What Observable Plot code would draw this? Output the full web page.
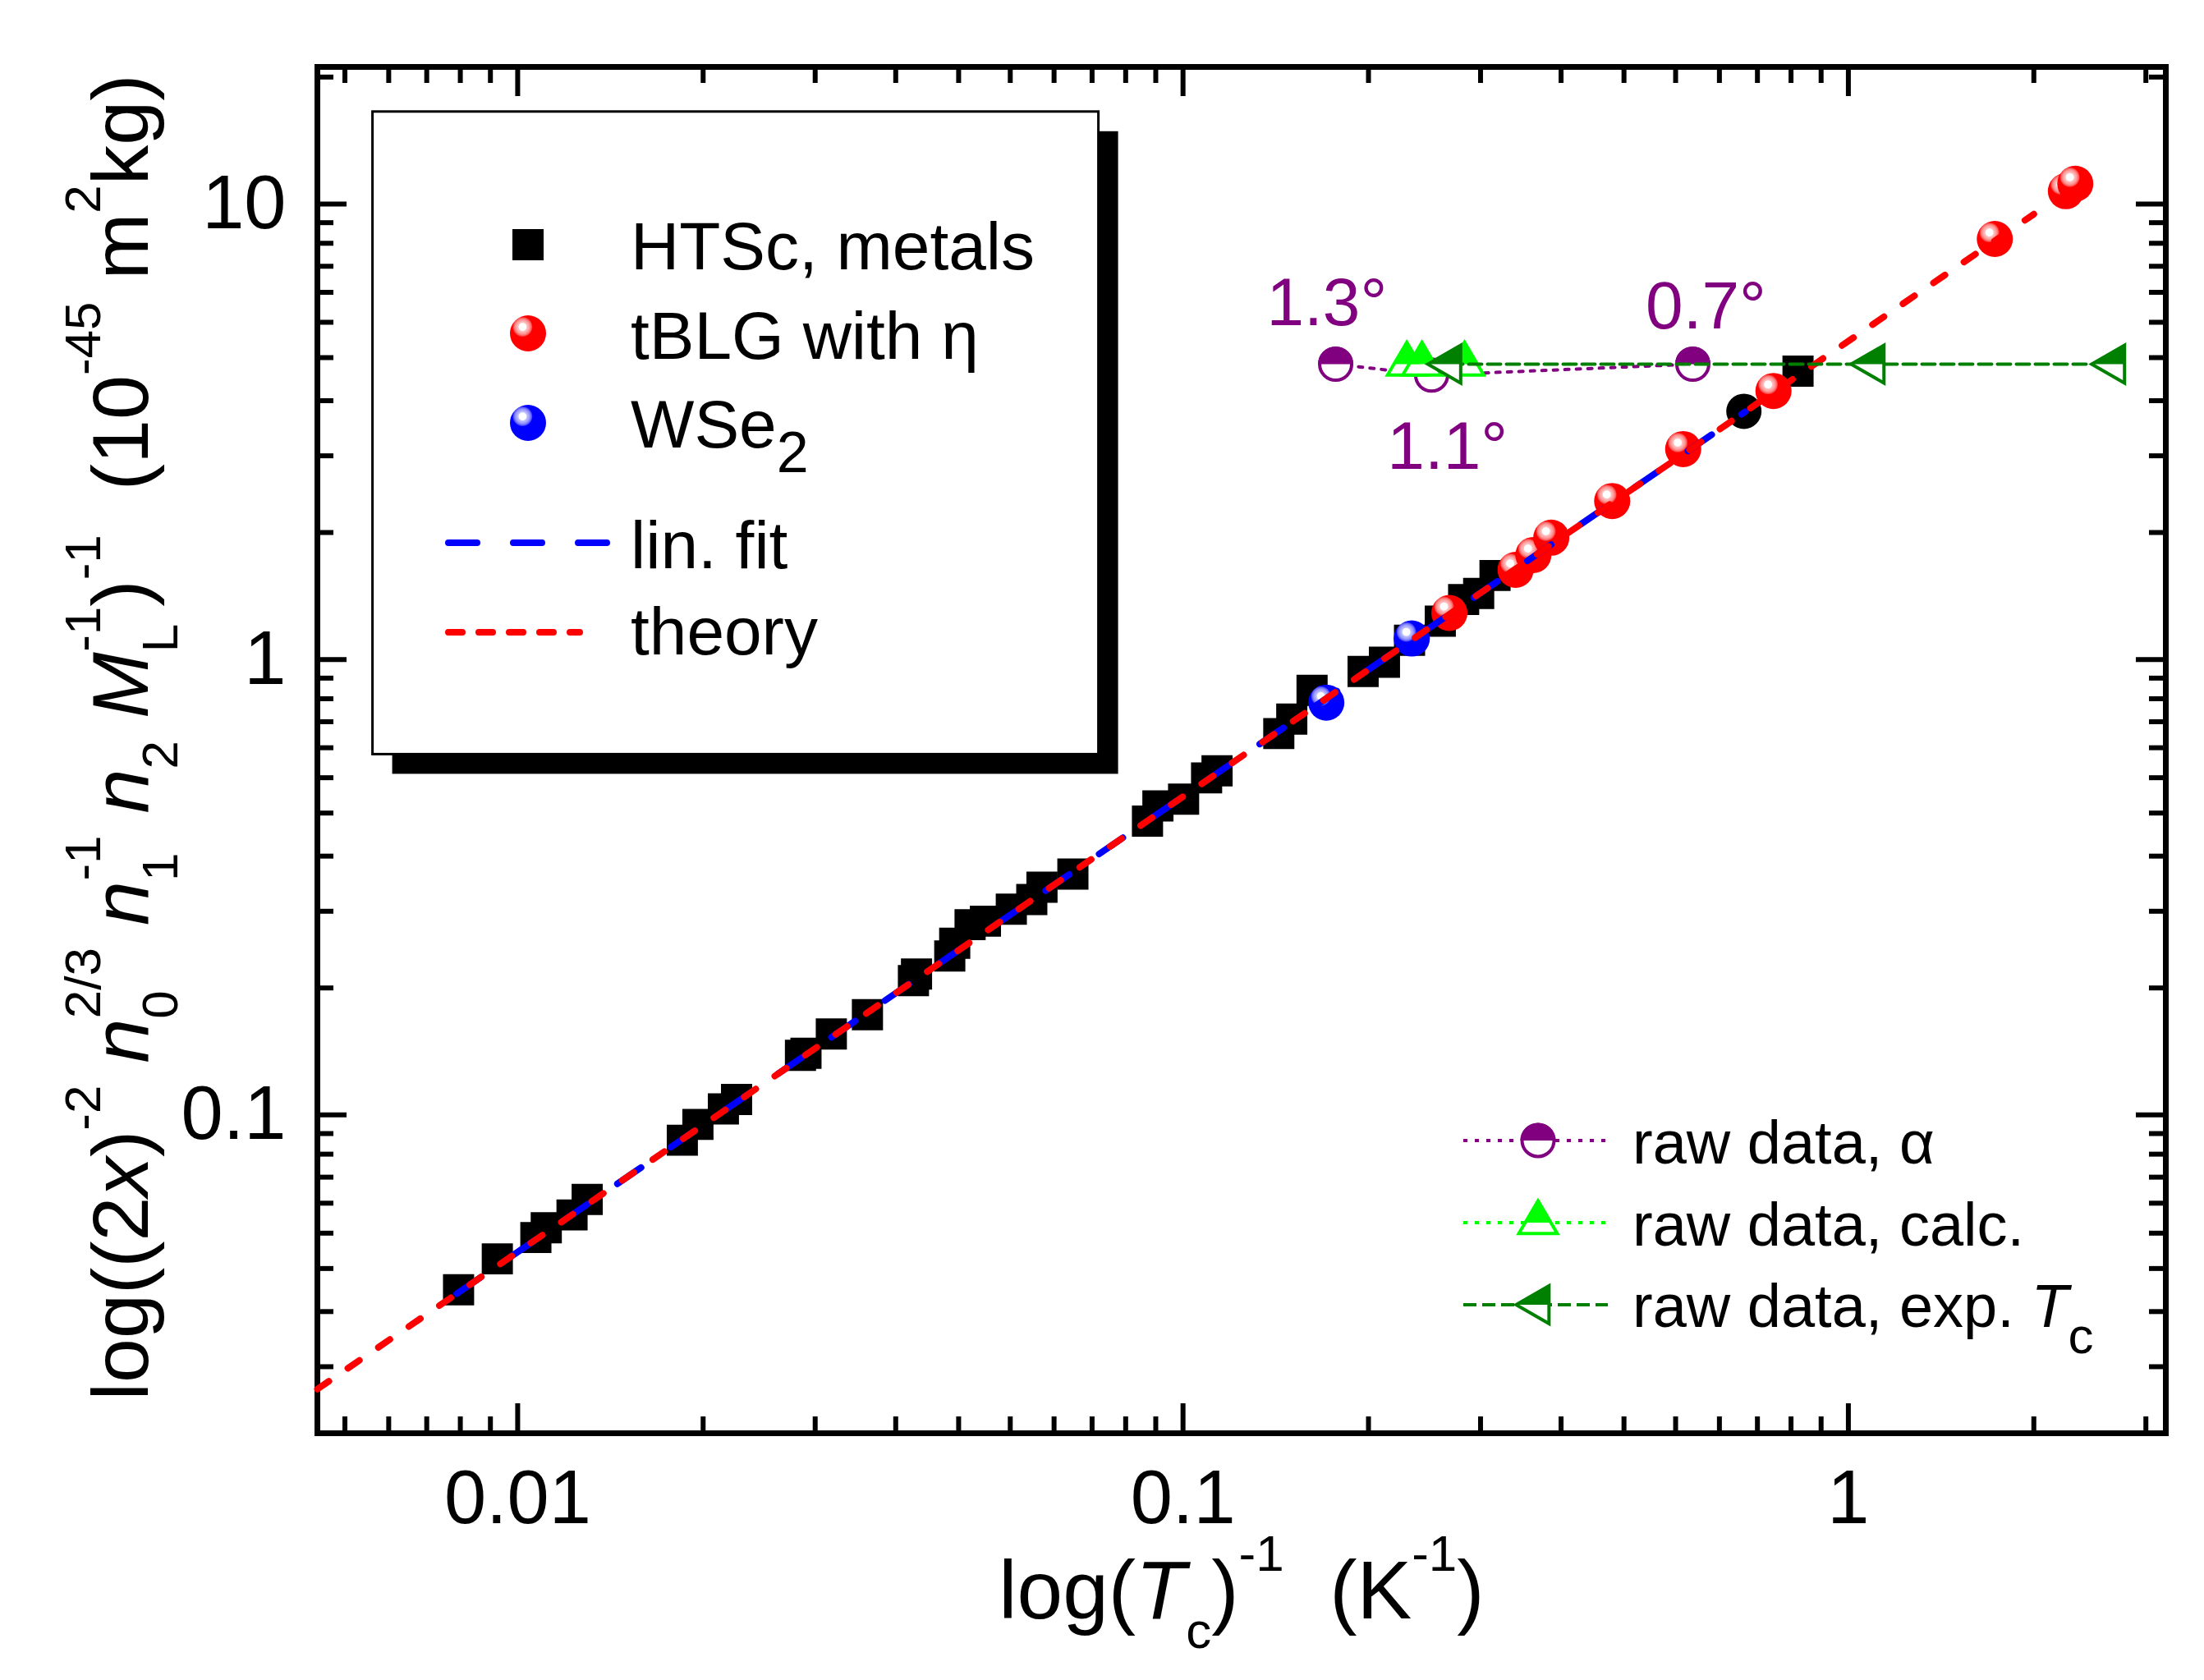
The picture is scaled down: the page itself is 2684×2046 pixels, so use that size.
<!DOCTYPE html>
<html>
<head>
<meta charset="utf-8">
<script src="https://cdn.jsdelivr.net/npm/d3@7"></script>
<script src="https://cdn.jsdelivr.net/npm/@observablehq/plot@0.6"></script>
<style>
  body { margin: 0; background: #fff; }
  svg { display: block; }
</style>
</head>
<body>
<svg width="0" height="0" style="position:absolute">
  <defs>
    <radialGradient id="ballRed" cx="0.35" cy="0.32" r="0.5" fx="0.35" fy="0.32">
      <stop offset="0" stop-color="#ffffff"/>
      <stop offset="0.2" stop-color="#ffffff"/>
      <stop offset="0.24" stop-color="#ffc4c4"/>
      <stop offset="0.4" stop-color="#ff9494"/>
      <stop offset="0.5" stop-color="#ff5656"/>
      <stop offset="0.56" stop-color="#ff0000"/>
      <stop offset="1" stop-color="#ff0000"/>
    </radialGradient>
    <radialGradient id="ballBlue" cx="0.35" cy="0.32" r="0.5" fx="0.35" fy="0.32">
      <stop offset="0" stop-color="#ffffff"/>
      <stop offset="0.2" stop-color="#ffffff"/>
      <stop offset="0.24" stop-color="#c4c4ff"/>
      <stop offset="0.4" stop-color="#9494ff"/>
      <stop offset="0.5" stop-color="#5656ff"/>
      <stop offset="0.56" stop-color="#0000ff"/>
      <stop offset="1" stop-color="#0000ff"/>
    </radialGradient>
  </defs>
</svg>
<script>
// ---------- data ----------
const htscX = [0.00815, 0.00932, 0.01065, 0.01104, 0.01207, 0.01272, 0.01768, 0.01866, 0.02038, 0.02133,
  0.02661, 0.02712, 0.02961, 0.03355, 0.03934, 0.03976, 0.04461, 0.04538, 0.04786, 0.05047,
  0.05520, 0.05925, 0.06138, 0.06831, 0.08843, 0.09168, 0.1002, 0.1085, 0.1125, 0.1393,
  0.1457, 0.1563, 0.1865, 0.2008, 0.2190, 0.2436, 0.2641, 0.2782, 0.2944, 0.8401];
const htscY = [0.0413, 0.0483, 0.0538, 0.0565, 0.0603, 0.0652, 0.0880, 0.0953, 0.1031, 0.1081,
  0.1351, 0.1366, 0.1506, 0.1660, 0.1972, 0.2039, 0.2234, 0.2381, 0.2616, 0.2663,
  0.2829, 0.2971, 0.3161, 0.3378, 0.4417, 0.4768, 0.4934, 0.5495, 0.5697, 0.6876,
  0.7400, 0.8555, 0.9412, 0.9865, 1.102, 1.214, 1.354, 1.396, 1.529, 4.297];
const otherX = [0.6966];
const otherY = [3.507];
const tblgX = [0.2514, 0.3161, 0.3362, 0.3577, 0.4416, 0.5646, 0.7717, 1.66, 2.123, 2.193];
const tblgY = [1.265, 1.573, 1.696, 1.851, 2.228, 2.897, 3.886, 8.38, 10.67, 11.08];
const wse2X = [0.1642, 0.2207];
const wse2Y = [0.804, 1.112];
const linFitX = [0.0081, 0.70];
const linFitY = [0.0405, 3.50];
const theoryX = [0.005, 1.9];
const theoryY = [0.025, 9.5];
const alphaAngles = ["1.3°", "1.1°", "0.7°"];
const alphaX = [0.1696, 0.2364, 0.5837];
const alphaY = [4.45, 4.21, 4.45];
const calcX = [0.2169, 0.2286, 0.2649];
const calcY = [4.45, 4.45, 4.45];
const expX = [0.2517, 1.089, 2.504];
const expY = [4.45, 4.45, 4.45];
const annText = ["1.3°", "0.7°", "1.1°"];
const annX = [0.1645, 0.6108, 0.2497];
const annY = [5.42, 5.33, 2.623];

const xDomain = [0.005, 3];
const yDomain = [0.02, 20];
const xMajorTicks = [0.01, 0.1, 1];
const xMajorLabels = ["0.01", "0.1", "1"];
const xMinorTicks = [0.0055, 0.0064, 0.0073, 0.0082, 0.0091,
  0.019, 0.028, 0.037, 0.046, 0.055, 0.064, 0.073, 0.082, 0.091,
  0.19, 0.28, 0.37, 0.46, 0.55, 0.64, 0.73, 0.82, 0.91,
  1.9, 2.8];
const yMajorTicks = [0.1, 1, 10];
const yMajorLabels = ["0.1", "1", "10"];
const yMinorTicks = [0.028, 0.037, 0.046, 0.055, 0.064, 0.073, 0.082, 0.091,
  0.19, 0.28, 0.37, 0.46, 0.55, 0.64, 0.73, 0.82, 0.91,
  1.9, 2.8, 3.7, 4.6, 5.5, 6.4, 7.3, 8.2, 9.1,
  19];

// ---------- helpers ----------
const FONT = "'Liberation Sans', Arial, Helvetica, sans-serif";
const PURPLE = "#800080", GREEN = "#00ff00", DKGREEN = "#008000";
const pts = (xs, ys) => xs.map((x, i) => ({x, y: ys[i], i}));

const rad = (s) => Math.sqrt(s / Math.PI);
const upperHalf = {draw(c, s) { const r = rad(s); c.moveTo(-r, 0); c.arc(0, 0, r, Math.PI, 2 * Math.PI); c.closePath(); }};
const upTri = {draw(c, s) { const r = rad(s); c.moveTo(0, -1.333 * r); c.lineTo(1.17 * r, 0.667 * r); c.lineTo(-1.17 * r, 0.667 * r); c.closePath(); }};
const upTriTop = {draw(c, s) { const r = rad(s); c.moveTo(0, -1.333 * r); c.lineTo(0.78 * r, 0); c.lineTo(-0.78 * r, 0); c.closePath(); }};
const leftTri = {draw(c, s) { const r = rad(s); c.moveTo(-1.333 * r, 0); c.lineTo(0.667 * r, -1.15 * r); c.lineTo(0.667 * r, 1.15 * r); c.closePath(); }};
const leftTriTop = {draw(c, s) { const r = rad(s); c.moveTo(-1.333 * r, 0); c.lineTo(0.667 * r, -1.15 * r); c.lineTo(0.667 * r, 0); c.closePath(); }};

const ymin = () => yDomain[0], ymax = () => yDomain[1];
const xmin = () => xDomain[0], xmax = () => xDomain[1];
const TW = 6;

const alpha = pts(alphaX, alphaY).map((d, i) => ({...d, angle: alphaAngles[i]}));

const svg = Plot.plot({
  width: 2684, height: 2046,
  marginLeft: 386, marginRight: 47, marginTop: 81, marginBottom: 301,
  x: {type: "log", domain: xDomain, axis: null},
  y: {type: "log", domain: yDomain, axis: null},
  style: {fontFamily: FONT, background: "#fff", overflow: "visible", color: "#000"},
  marks: [
    // ticks (inward, all four sides)
    Plot.ruleX(xMajorTicks, {x: d => d, y1: ymin, y2: ymin, insetBottom: 36, stroke: "#000", strokeWidth: TW}),
    Plot.ruleX(xMinorTicks, {x: d => d, y1: ymin, y2: ymin, insetBottom: 20, stroke: "#000", strokeWidth: TW}),
    Plot.ruleX(xMajorTicks, {x: d => d, y1: ymax, y2: ymax, insetBottom: -36, stroke: "#000", strokeWidth: TW}),
    Plot.ruleX(xMinorTicks, {x: d => d, y1: ymax, y2: ymax, insetBottom: -20, stroke: "#000", strokeWidth: TW}),
    Plot.ruleY(yMajorTicks, {y: d => d, x1: xmin, x2: xmin, insetRight: -36, stroke: "#000", strokeWidth: TW}),
    Plot.ruleY(yMinorTicks, {y: d => d, x1: xmin, x2: xmin, insetRight: -20, stroke: "#000", strokeWidth: TW}),
    Plot.ruleY(yMajorTicks, {y: d => d, x1: xmax, x2: xmax, insetLeft: -36, stroke: "#000", strokeWidth: TW}),
    Plot.ruleY(yMinorTicks, {y: d => d, x1: xmax, x2: xmax, insetLeft: -20, stroke: "#000", strokeWidth: TW}),
    Plot.frame({stroke: "#000", strokeWidth: 7}),
    // tick labels
    Plot.text(xMajorTicks, {x: d => d, y: ymin, text: (d, i) => xMajorLabels[i], dy: 109, lineAnchor: "bottom", fontSize: 92, fill: "#000"}),
    Plot.text(yMajorTicks, {x: xmin, y: d => d, text: (d, i) => yMajorLabels[i], dx: -38, textAnchor: "end", lineAnchor: "middle", fontSize: 92, fill: "#000"}),
    // data
    Plot.dot(pts(htscX, htscY), {x: "x", y: "y", symbol: "square", r: 21.4, fill: "#000"}),
    Plot.dot(pts(otherX, otherY), {x: "x", y: "y", r: 21.5, fill: "#000"}),
    Plot.dot(pts(tblgX, tblgY), {x: "x", y: "y", r: 22, fill: "url(#ballRed)"}),
    Plot.dot(pts(wse2X, wse2Y), {x: "x", y: "y", r: 22, fill: "url(#ballBlue)"}),
    Plot.line(pts(linFitX, linFitY), {x: "x", y: "y", stroke: "#0000ff", strokeWidth: 8, strokeDasharray: "35,44", strokeLinecap: "round"}),
    Plot.line(pts(theoryX, theoryY), {x: "x", y: "y", stroke: "#ff0000", strokeWidth: 8, strokeDasharray: "17,28", strokeLinecap: "round"}),
    // raw data
    Plot.line(alpha, {x: "x", y: "y", stroke: PURPLE, strokeWidth: 4, strokeDasharray: "5,9"}),
    Plot.dot(alpha, {x: "x", y: "y", r: 19.5, fill: "#fff", stroke: PURPLE, strokeWidth: 4}),
    Plot.dot(alpha, {filter: d => d.angle !== "1.1°", x: "x", y: "y", symbol: upperHalf, r: 21.5, fill: PURPLE}),
    Plot.line(pts(calcX, calcY), {x: "x", y: "y", stroke: GREEN, strokeWidth: 4, strokeDasharray: "5,9"}),
    Plot.dot(pts(calcX, calcY), {x: "x", y: "y", symbol: upTri, r: 20, fill: "#fff", stroke: GREEN, strokeWidth: 4}),
    Plot.dot(pts(calcX, calcY), {x: "x", y: "y", symbol: upTriTop, r: 20, fill: GREEN}),
    Plot.line(pts(expX, expY), {x: "x", y: "y", stroke: DKGREEN, strokeWidth: 4, strokeDasharray: "16,7"}),
    Plot.dot(pts(expX, expY), {x: "x", y: "y", symbol: leftTri, r: 20, fill: "#fff", stroke: DKGREEN, strokeWidth: 4}),
    Plot.dot(pts(expX, expY), {x: "x", y: "y", symbol: leftTriTop, r: 20, fill: DKGREEN}),
    Plot.text(pts(annX, annY), {x: "x", y: "y", text: (d) => annText[d.i], lineAnchor: "bottom", fontSize: 82, fill: PURPLE})
  ]
});
document.body.appendChild(svg);

// ---------- rich text (sub/superscripts) ----------
const root = d3.select(svg);
function rich(parent, o) {
  const t = parent.append("text")
    .attr("font-size", o.size).attr("text-anchor", o.anchor || "start")
    .attr("fill", o.fill || "#000").attr("font-family", FONT);
  if (o.rotate) t.attr("transform", `translate(${o.x},${o.y}) rotate(${o.rotate})`);
  else t.attr("x", o.x).attr("y", o.y);
  let cur = 0;
  for (const [txt, k, it, dx] of o.parts) {
    const target = k === "d" ? o.subShift : k === "u" ? -o.supShift : 0;
    const ts = t.append("tspan").text(txt).attr("dy", target - cur);
    if (k !== "b") ts.attr("font-size", o.subSize);
    if (it) ts.attr("font-style", "italic");
    if (dx) ts.attr("dx", dx);
    cur = target;
  }
  return t;
}

// x axis title
rich(root, {x: 1512, y: 1971, anchor: "middle", size: 100, subSize: 62, subShift: 36, supShift: 58,
  parts: [["log(", "b"], ["T", "b", 1], ["c", "d"], [")", "b"], ["-1", "u"], ["\u00A0\u00A0(K", "b"], ["-1", "u"], [")", "b"]]});

// y axis title
rich(root, {x: 180, y: 898, rotate: -90, anchor: "middle", size: 97, subSize: 62, subShift: 36, supShift: 58,
  parts: [
    ["log((2", "b"], ["x", "b", 1], [")", "b"], ["-2", "u"], ["\u00A0", "b"],
    ["n", "b", 1], ["0", "d"], ["2/3", "u", 0, -34], ["\u00A0", "b"],
    ["n", "b", 1], ["1", "d"], ["-1", "u", 0, -34], ["\u00A0", "b"],
    ["n", "b", 1], ["2", "d"], ["\u00A0", "b"],
    ["M", "b", 1], ["L", "d"], ["-1", "u", 0, -34], [")", "b"], ["-1", "u"],
    ["\u00A0\u00A0(10", "b"], ["-45", "u"], ["\u00A0m", "b"], ["2", "u"], ["kg)", "b"]
  ]});

// ---------- main legend (box with shadow) ----------
const lg = root.append("g");
lg.append("rect").attr("x", 477.6).attr("y", 159.8).attr("width", 884).attr("height", 782.6).attr("fill", "#000");
lg.append("rect").attr("x", 453.6).attr("y", 135.8).attr("width", 884).attr("height", 782.6)
  .attr("fill", "#fff").attr("stroke", "#000").attr("stroke-width", 3);
const MX = 643, TX = 768;
lg.append("rect").attr("x", MX - 19).attr("y", 298 - 19).attr("width", 38).attr("height", 38).attr("fill", "#000");
lg.append("circle").attr("cx", MX).attr("cy", 406).attr("r", 22).attr("fill", "url(#ballRed)");
lg.append("circle").attr("cx", MX).attr("cy", 515).attr("r", 22).attr("fill", "url(#ballBlue)");
lg.append("line").attr("x1", 546).attr("x2", 741).attr("y1", 661).attr("y2", 661)
  .attr("stroke", "#0000ff").attr("stroke-width", 8).attr("stroke-dasharray", "35,44").attr("stroke-linecap", "round");
lg.append("line").attr("x1", 546).attr("x2", 706).attr("y1", 770).attr("y2", 770)
  .attr("stroke", "#ff0000").attr("stroke-width", 8).attr("stroke-dasharray", "17,20").attr("stroke-linecap", "round");
const legendMain = [["HTSc, metals", 328], ["tBLG with η", 437], ["lin. fit", 692], ["theory", 797]];
for (const [t, y] of legendMain) {
  rich(lg, {x: TX, y, size: 82, subSize: 68, subShift: 30, supShift: 30, parts: [[t, "b"]]});
}
rich(lg, {x: TX, y: 545, size: 82, subSize: 70, subShift: 30, supShift: 30, parts: [["WSe", "b"], ["2", "d"]]});

// ---------- raw data legend ----------
const rg = root.append("g");
const sym = (type, r) => d3.symbol().type(type).size(Math.PI * r * r)();
const RX = 1873;
// alpha
rg.append("line").attr("x1", 1782).attr("x2", 1958).attr("y1", 1389).attr("y2", 1389)
  .attr("stroke", PURPLE).attr("stroke-width", 4).attr("stroke-dasharray", "5,9");
rg.append("circle").attr("cx", RX).attr("cy", 1389).attr("r", 19.5).attr("fill", "#fff").attr("stroke", PURPLE).attr("stroke-width", 4);
rg.append("path").attr("d", sym(upperHalf, 21.5)).attr("transform", `translate(${RX},1389)`).attr("fill", PURPLE);
// calc
rg.append("line").attr("x1", 1782).attr("x2", 1958).attr("y1", 1489).attr("y2", 1489)
  .attr("stroke", GREEN).attr("stroke-width", 4).attr("stroke-dasharray", "5,9");
rg.append("path").attr("d", sym(upTri, 20)).attr("transform", `translate(${RX},1489)`).attr("fill", "#fff").attr("stroke", GREEN).attr("stroke-width", 4);
rg.append("path").attr("d", sym(upTriTop, 20)).attr("transform", `translate(${RX},1489)`).attr("fill", GREEN);
// exp Tc
rg.append("line").attr("x1", 1782).attr("x2", 1958).attr("y1", 1589).attr("y2", 1589)
  .attr("stroke", DKGREEN).attr("stroke-width", 4).attr("stroke-dasharray", "16,7");
rg.append("path").attr("d", sym(leftTri, 20)).attr("transform", `translate(${RX},1589)`).attr("fill", "#fff").attr("stroke", DKGREEN).attr("stroke-width", 4);
rg.append("path").attr("d", sym(leftTriTop, 20)).attr("transform", `translate(${RX},1589)`).attr("fill", DKGREEN);
rich(rg, {x: 1988, y: 1417, size: 74, subSize: 58, subShift: 32, supShift: 30, parts: [["raw data, α", "b"]]});
rich(rg, {x: 1988, y: 1517, size: 74, subSize: 58, subShift: 32, supShift: 30, parts: [["raw data, calc.", "b"]]});
rich(rg, {x: 1988, y: 1616, size: 74, subSize: 62, subShift: 32, supShift: 30, parts: [["raw data, exp. ", "b"], ["T", "b", 1], ["c", "d"]]});
</script>
</body>
</html>
